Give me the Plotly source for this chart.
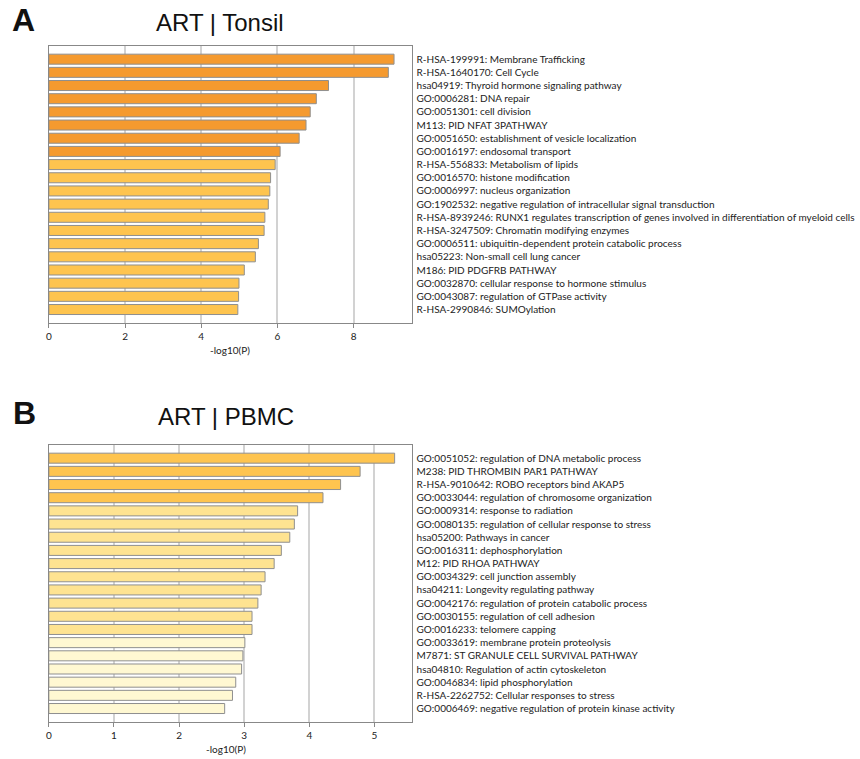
import plotly.graph_objects as go

# ---------- data ----------
tonsil_terms = [
    "R-HSA-199991: Membrane Trafficking",
    "R-HSA-1640170: Cell Cycle",
    "hsa04919: Thyroid hormone signaling pathway",
    "GO:0006281: DNA repair",
    "GO:0051301: cell division",
    "M113: PID NFAT 3PATHWAY",
    "GO:0051650: establishment of vesicle localization",
    "GO:0016197: endosomal transport",
    "R-HSA-556833: Metabolism of lipids",
    "GO:0016570: histone modification",
    "GO:0006997: nucleus organization",
    "GO:1902532: negative regulation of intracellular signal transduction",
    "R-HSA-8939246: RUNX1 regulates transcription of genes involved in differentiation of myeloid cells",
    "R-HSA-3247509: Chromatin modifying enzymes",
    "GO:0006511: ubiquitin-dependent protein catabolic process",
    "hsa05223: Non-small cell lung cancer",
    "M186: PID PDGFRB PATHWAY",
    "GO:0032870: cellular response to hormone stimulus",
    "GO:0043087: regulation of GTPase activity",
    "R-HSA-2990846: SUMOylation",
]
tonsil_values = [9.06, 8.91, 7.34, 7.02, 6.86, 6.75, 6.57, 6.07, 5.94, 5.82,
                 5.80, 5.76, 5.67, 5.65, 5.50, 5.42, 5.13, 4.99, 4.98, 4.96]
tonsil_colors = ["#F59A2F"] * 8 + ["#FEC44F"] * 12

pbmc_terms = [
    "GO:0051052: regulation of DNA metabolic process",
    "M238: PID THROMBIN PAR1 PATHWAY",
    "R-HSA-9010642: ROBO receptors bind AKAP5",
    "GO:0033044: regulation of chromosome organization",
    "GO:0009314: response to radiation",
    "GO:0080135: regulation of cellular response to stress",
    "hsa05200: Pathways in cancer",
    "GO:0016311: dephosphorylation",
    "M12: PID RHOA PATHWAY",
    "GO:0034329: cell junction assembly",
    "hsa04211: Longevity regulating pathway",
    "GO:0042176: regulation of protein catabolic process",
    "GO:0030155: regulation of cell adhesion",
    "GO:0016233: telomere capping",
    "GO:0033619: membrane protein proteolysis",
    "M7871: ST GRANULE CELL SURVIVAL PATHWAY",
    "hsa04810: Regulation of actin cytoskeleton",
    "GO:0046834: lipid phosphorylation",
    "R-HSA-2262752: Cellular responses to stress",
    "GO:0006469: negative regulation of protein kinase activity",
]
pbmc_values = [5.31, 4.78, 4.48, 4.21, 3.82, 3.77, 3.70, 3.57, 3.46, 3.32,
               3.26, 3.21, 3.12, 3.12, 3.01, 2.98, 2.96, 2.87, 2.82, 2.70]
pbmc_colors = ["#FEC44F"] * 4 + ["#FEE391"] * 10 + ["#FFF8D2"] * 6

tonsil_ticks = [0, 2, 4, 6, 8]
pbmc_ticks = [0, 1, 2, 3, 4, 5]

# ---------- figure ----------
W, H = 860, 759
fig = go.Figure()

label_font = dict(family="Lato, 'Open Sans', sans-serif", size=10, color="#222")

fig.add_trace(go.Bar(
    x=tonsil_values, y=list(range(len(tonsil_terms))), orientation="h",
    marker=dict(color=tonsil_colors, line=dict(color="#8f8f8f", width=1)),
    width=0.76, xaxis="x", yaxis="y", showlegend=False, hoverinfo="x+text",
    text=tonsil_terms, textposition="none",
))
fig.add_trace(go.Bar(
    x=pbmc_values, y=list(range(len(pbmc_terms))), orientation="h",
    marker=dict(color=pbmc_colors, line=dict(color="#8f8f8f", width=1)),
    width=0.76, xaxis="x2", yaxis="y2", showlegend=False, hoverinfo="x+text",
    text=pbmc_terms, textposition="none",
))

def px_y(p):
    return 1 - p / H

xdom = [46 / W, 410 / W]
top_dom = [px_y(322.7), px_y(46)]
bot_dom = [px_y(721.7), px_y(445)]

common_x = dict(
    showline=True, mirror=True, linecolor="#888", linewidth=1,
    showgrid=True, gridcolor="#d2d2d2", gridwidth=1.5,
    ticks="outside", ticklen=4, tickcolor="#888",
    tickfont=dict(family="Lato, 'Open Sans', sans-serif", size=10, color="#222"),
    zeroline=False, fixedrange=True, domain=xdom,
)
common_y = dict(
    showline=True, mirror=True, linecolor="#888", linewidth=1,
    showgrid=False, ticks="", side="right", zeroline=False,
    tickfont=label_font, ticklabelstandoff=2, automargin=False,
)

fig.update_layout(
    width=W, height=H,
    margin=dict(l=0, r=0, t=0, b=0),
    paper_bgcolor="white", plot_bgcolor="white",
    bargap=0.24,
    xaxis=dict(common_x, range=[0, 9.52], tickvals=tonsil_ticks, anchor="y"),
    yaxis=dict(common_y, domain=top_dom, range=[20, -1],
               tickvals=list(range(len(tonsil_terms))), ticktext=tonsil_terms,
               anchor="x"),
    xaxis2=dict(common_x, range=[0, 5.57], tickvals=pbmc_ticks, anchor="y2"),
    yaxis2=dict(common_y, domain=bot_dom, range=[20, -1],
                tickvals=list(range(len(pbmc_terms))), ticktext=pbmc_terms,
                anchor="x2"),
)

ann_font = dict(family="Liberation Sans, Arial, sans-serif", color="#111")
annotations = [
    dict(text="<b>A</b>", x=7 / W, y=px_y(20), xanchor="left", yanchor="middle",
         font=dict(ann_font, size=32)),
    dict(text="ART | Tonsil", x=218 / W, y=px_y(23), xanchor="center", yanchor="middle",
         font=dict(ann_font, size=24)),
    dict(text="-log10(P)", x=228 / W, y=px_y(350), xanchor="center", yanchor="middle",
         font=dict(family="Lato, 'Open Sans', sans-serif", size=10, color="#222")),
    dict(text="<b>B</b>", x=8 / W, y=px_y(413), xanchor="left", yanchor="middle",
         font=dict(ann_font, size=32)),
    dict(text="ART | PBMC", x=224 / W, y=px_y(416), xanchor="center", yanchor="middle",
         font=dict(ann_font, size=24)),
    dict(text="-log10(P)", x=224 / W, y=px_y(749), xanchor="center", yanchor="middle",
         font=dict(family="Lato, 'Open Sans', sans-serif", size=10, color="#222")),
]
for a in annotations:
    a.update(xref="paper", yref="paper", showarrow=False)
fig.update_layout(annotations=annotations)

fig.write_html("out.html")
